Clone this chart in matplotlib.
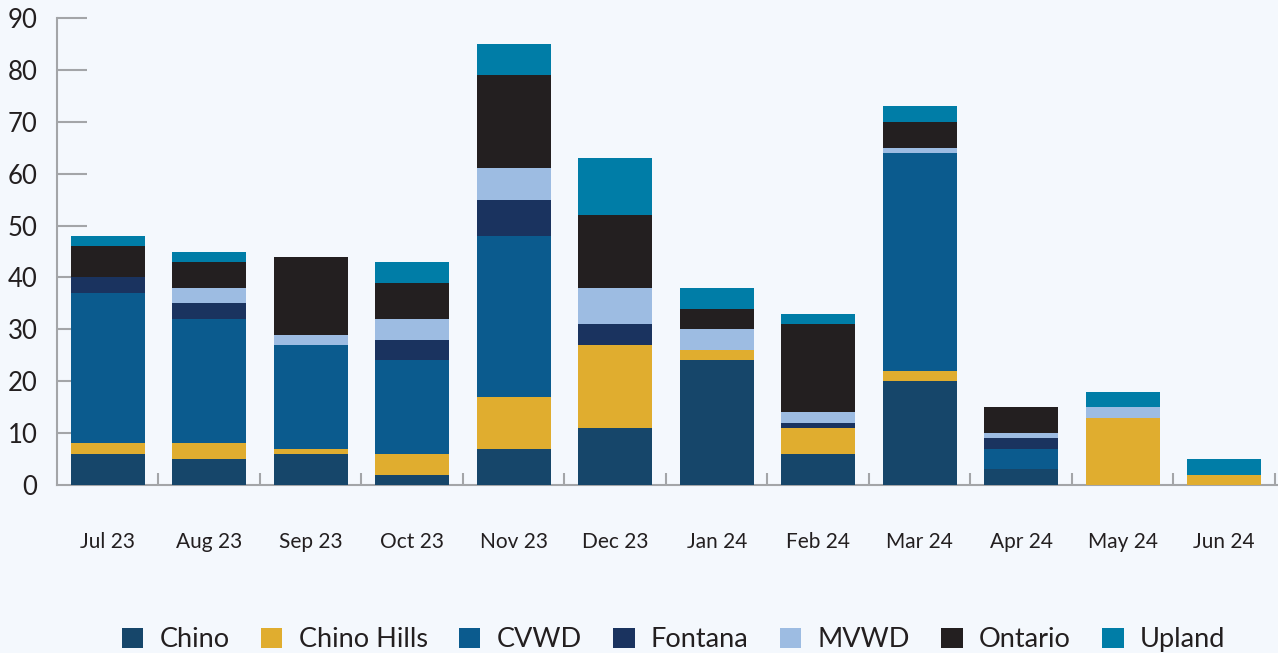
import matplotlib
matplotlib.use("Agg")
import matplotlib.pyplot as plt
import numpy as np

plt.rcParams['font.family'] = ['Lato', 'DejaVu Sans']

months = ["Jul 23", "Aug 23", "Sep 23", "Oct 23", "Nov 23", "Dec 23",
          "Jan 24", "Feb 24", "Mar 24", "Apr 24", "May 24", "Jun 24"]
chino       = [6, 5, 6, 2, 7, 11, 24, 6, 20, 3, 0, 0]
chino_hills = [2, 3, 1, 4, 10, 16, 2, 5, 2, 0, 13, 2]
cvwd        = [29, 24, 20, 18, 31, 0, 0, 0, 42, 4, 0, 0]
fontana     = [3, 3, 0, 4, 7, 4, 0, 1, 0, 2, 0, 0]
mvwd        = [0, 3, 2, 4, 6, 7, 4, 2, 1, 1, 2, 0]
ontario     = [6, 5, 15, 7, 18, 14, 4, 17, 5, 5, 0, 0]
upland      = [2, 2, 0, 4, 6, 11, 4, 2, 3, 0, 3, 3]

series = [("Chino", chino, "#16466a"),
          ("Chino Hills", chino_hills, "#e0ad2f"),
          ("CVWD", cvwd, "#0b5b8e"),
          ("Fontana", fontana, "#1a335f"),
          ("MVWD", mvwd, "#9dbce2"),
          ("Ontario", ontario, "#231f20"),
          ("Upland", upland, "#007da7")]

bg = "#f4f8fd"
fig = plt.figure(figsize=(12.78, 6.53), dpi=100, facecolor=bg)
ax = fig.add_axes([57/1278, 1-485/653, 1-57/1278, (485-18)/653])
ax.set_facecolor(bg)

x = np.arange(len(months))
bottom = np.zeros(len(months))
for name, vals, col in series:
    v = np.array(vals, dtype=float)
    ax.bar(x, v, width=0.73, bottom=bottom, color=col, label=name, linewidth=0, zorder=3)
    bottom += v

ax.set_xlim(-0.5, 11.53)
ax.set_ylim(0, 90)
ax.set_yticks(np.arange(0, 91, 10))
ax.set_xticks(x)
ax.set_xticklabels(months)
ax.set_xticks(np.arange(0.5, 12, 1), minor=True)

gray = "#a3a5a8"
for s in ["top", "right"]:
    ax.spines[s].set_visible(False)
for s in ["left", "bottom"]:
    ax.spines[s].set_color(gray)
    ax.spines[s].set_linewidth(1.5)

ax.tick_params(axis='y', direction='in', length=21.6, width=1.5, color=gray,
               labelsize=18.5, pad=14, labelcolor="#231f20")
ax.tick_params(axis='x', which='major', length=0, labelsize=15, pad=34, labelcolor="#231f20")
ax.tick_params(axis='x', which='minor', direction='in', length=9, width=1.5, color=gray)
ax.yaxis.get_major_ticks()[0].tick1line.set_visible(False)

leg = fig.legend(loc='center', bbox_to_anchor=(0.527, 0.02), ncol=7, frameon=False,
                 fontsize=19.5, handlelength=0.8, handleheight=0.8, handletextpad=0.6,
                 columnspacing=1.15, labelcolor="#231f20")

fig.savefig("out.png", dpi=100, facecolor=bg)
